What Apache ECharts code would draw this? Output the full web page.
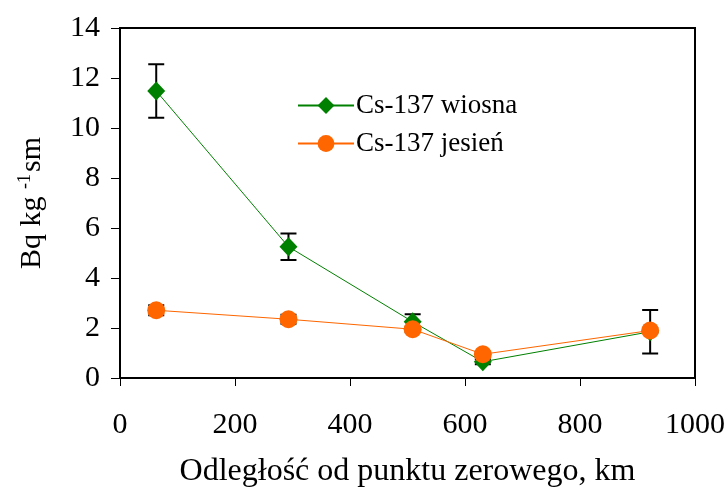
<!DOCTYPE html>
<html>
<head>
<meta charset="utf-8">
<script src="https://cdn.jsdelivr.net/npm/echarts@6/dist/echarts.min.js"></script>
<style>html,body{margin:0;padding:0;background:#fff}#c{width:728px;height:500px}</style>
</head>
<body>
<div id="c"></div>
<script>
const distances = [63, 293, 509, 631, 922];
const springValues = [11.48, 5.25, 2.25, 0.65, 1.85];
const springErrors = [1.07, 0.53, 0.3, 0.1, 0.87];
const autumnValues = [2.71, 2.35, 1.95, 0.95, 1.9];
const autumnErrors = [0.2, 0.18, 0.1, 0.1, 0.1];
const xTicks = [0, 200, 400, 600, 800, 1000];
const yTicks = [0, 2, 4, 6, 8, 10, 12, 14];

const font = "'Liberation Serif', serif";
function pairs(v) { return distances.map((d, i) => [d, v[i]]); }
function errs(v, e) { return distances.map((d, i) => [d, v[i] - e[i], v[i] + e[i]]); }

function renderErr(params, api) {
  const x = api.value(0);
  const lo = api.coord([x, api.value(1)]);
  const hi = api.coord([x, api.value(2)]);
  const w = 8;
  const st = { stroke: '#000', lineWidth: 2 };
  return {
    type: 'group',
    children: [
      { type: 'line', shape: { x1: lo[0], y1: lo[1], x2: hi[0], y2: hi[1] }, style: st },
      { type: 'line', shape: { x1: lo[0] - w, y1: lo[1], x2: lo[0] + w, y2: lo[1] }, style: st },
      { type: 'line', shape: { x1: hi[0] - w, y1: hi[1], x2: hi[0] + w, y2: hi[1] }, style: st }
    ]
  };
}

const chart = echarts.init(document.getElementById('c'), null, { renderer: 'canvas' });
chart.setOption({
  animation: false,
  backgroundColor: '#fff',
  textStyle: { fontFamily: font, color: '#000' },
  grid: { left: 120, right: 33, top: 28, bottom: 122, show: true, borderColor: '#000', borderWidth: 2, backgroundColor: 'transparent' },
  legend: {
    orient: 'vertical', left: 292, top: 87, itemWidth: 56, itemHeight: 21, itemGap: 11,
    textStyle: { fontFamily: font, fontSize: 27, color: '#000', padding: [0, 0, 0, -3] },
    data: ['Cs-137 wiosna', 'Cs-137 jesień']
  },
  xAxis: {
    type: 'value', min: xTicks[0], max: xTicks[xTicks.length - 1], interval: 200,
    name: 'Odległość od punktu zerowego, km', nameLocation: 'middle', nameGap: 78,
    nameTextStyle: { fontFamily: font, fontSize: 32, color: '#000' },
    axisLine: { lineStyle: { color: '#000', width: 2 } },
    axisTick: { length: 8, lineStyle: { color: '#000', width: 1 } },
    axisLabel: { fontFamily: font, fontSize: 30, color: '#000', margin: 32, formatter: v => String(v) },
    splitLine: { show: false }
  },
  yAxis: {
    type: 'value', min: yTicks[0], max: yTicks[yTicks.length - 1], interval: 2,
    name: '{a|Bq kg }{s|-1}{a|sm}', nameLocation: 'middle', nameGap: 72, nameRotate: 90,
    nameTextStyle: {
      fontFamily: font, fontSize: 30, color: '#000',
      rich: {
        a: { fontFamily: font, fontSize: 30, color: '#000' },
        s: { fontFamily: font, fontSize: 18, color: '#000', padding: [0, 2, 14, 0] }
      }
    },
    axisLine: { lineStyle: { color: '#000', width: 2 } },
    axisTick: { length: 9, lineStyle: { color: '#000', width: 1 } },
    axisLabel: { fontFamily: font, fontSize: 30, color: '#000', margin: 20, formatter: v => String(v) },
    splitLine: { show: false }
  },
  series: [
    { type: 'custom', name: 'errSpring', renderItem: renderErr, data: errs(springValues, springErrors), z: 1, silent: true },
    { type: 'line', name: 'Cs-137 wiosna', data: pairs(springValues), symbol: 'diamond', symbolSize: [18, 19],
      lineStyle: { color: '#008000', width: 1 }, itemStyle: { color: '#008000' }, z: 2 },
    { type: 'custom', name: 'errAutumn', renderItem: renderErr, data: errs(autumnValues, autumnErrors), z: 3, silent: true },
    { type: 'line', name: 'Cs-137 jesień', data: pairs(autumnValues), symbol: 'circle', symbolSize: 18,
      lineStyle: { color: '#FF6600', width: 1 }, itemStyle: { color: '#FF6600' }, z: 4 }
  ]
});
</script>
</body>
</html>
